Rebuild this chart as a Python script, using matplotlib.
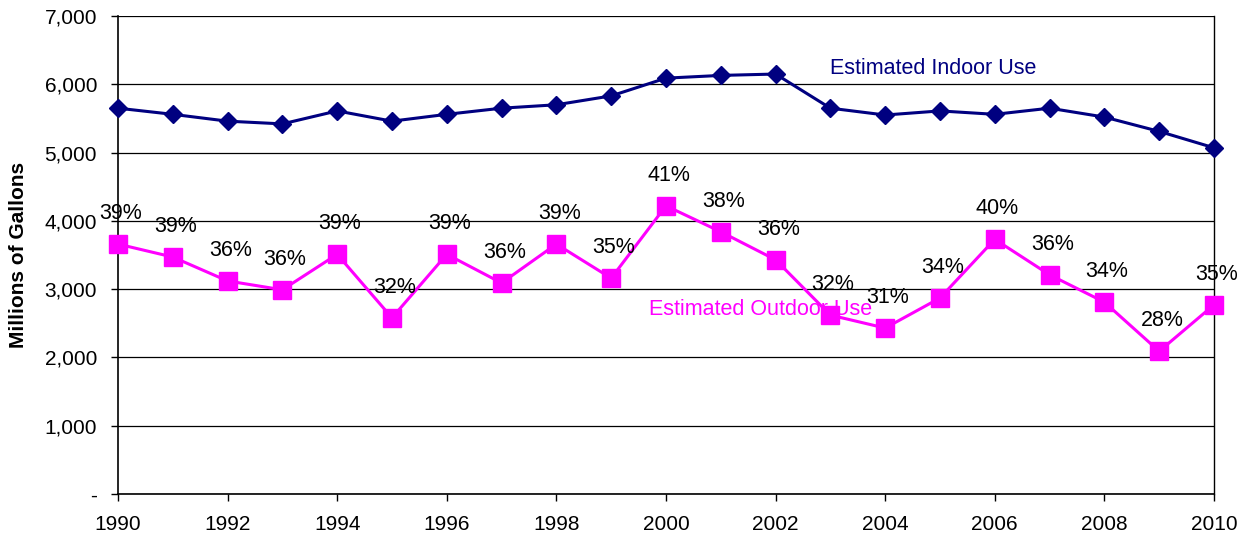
import numpy as np
import matplotlib.pyplot as plt
from matplotlib.ticker import FuncFormatter

plt.rcParams['font.family'] = ['Liberation Sans', 'DejaVu Sans']

# years
YEARS = np.arange(1990, 2011)

# millions of gallons
INDOOR = [5650, 5560, 5460, 5420, 5610, 5460, 5560, 5650, 5700, 5830, 6090,
          6130, 6150, 5650, 5550, 5610, 5560, 5650, 5520, 5310, 5070]
OUTDOOR = [3660, 3470, 3120, 2990, 3510, 2580, 3510, 3090, 3660, 3160, 4220,
           3840, 3430, 2620, 2430, 2870, 3730, 3210, 2810, 2090, 2770]

# outdoor share of total
PCT = [39, 39, 36, 36, 39, 32, 39, 36, 39, 35, 41,
       38, 36, 32, 31, 34, 40, 36, 34, 28, 35]

fig = plt.figure(figsize=(12.51, 5.37), dpi=100)
ax = fig.add_axes([0.0943, 0.0801, 0.8761, 0.8901])

ax.plot(YEARS, INDOOR, color='#000080', lw=2.2, marker='D', ms=9, zorder=4, clip_on=False)
ax.plot(YEARS, OUTDOOR, color='#FF00FF', lw=2.2, marker='s', ms=13, zorder=4, clip_on=False)

for x, y, p in zip(YEARS, OUTDOOR, PCT):
    ax.annotate("%d%%" % p, (x, y), xytext=(2, 22), textcoords='offset points',
                ha='center', va='center', fontsize=15.5, color='black', zorder=5)

ax.text(2003.0, 6237, "Estimated Indoor Use", color='#000080', fontsize=15.5,
        va='center', ha='left', zorder=3)
ax.text(1999.69, 2709, "Estimated Outdoor Use", color='#FF00FF', fontsize=15.5,
        va='center', ha='left', zorder=3)

ax.set_xlim(1990, 2010)
ax.set_ylim(0, 7000)
ax.set_xticks(np.arange(1990, 2011, 2))
ax.set_yticks(np.arange(0, 7001, 1000))
ax.yaxis.set_major_formatter(FuncFormatter(lambda v, _: '-' if v == 0 else '{:,.0f}'.format(v)))
ax.tick_params(labelsize=15, direction='out', length=5, width=1, colors='black')
ax.tick_params(axis='x', pad=10)
ax.tick_params(axis='y', pad=10)
ax.grid(axis='y', color='black', lw=0.9)
ax.set_axisbelow(True)
for s in ['left', 'bottom']:
    ax.spines[s].set_linewidth(1.2)
ax.spines['right'].set_linewidth(1.0)
ax.spines['top'].set_visible(False)

ax.set_ylabel("Millions of Gallons", fontsize=15, fontweight='bold', labelpad=12)

fig.savefig('out.png', dpi=100)
